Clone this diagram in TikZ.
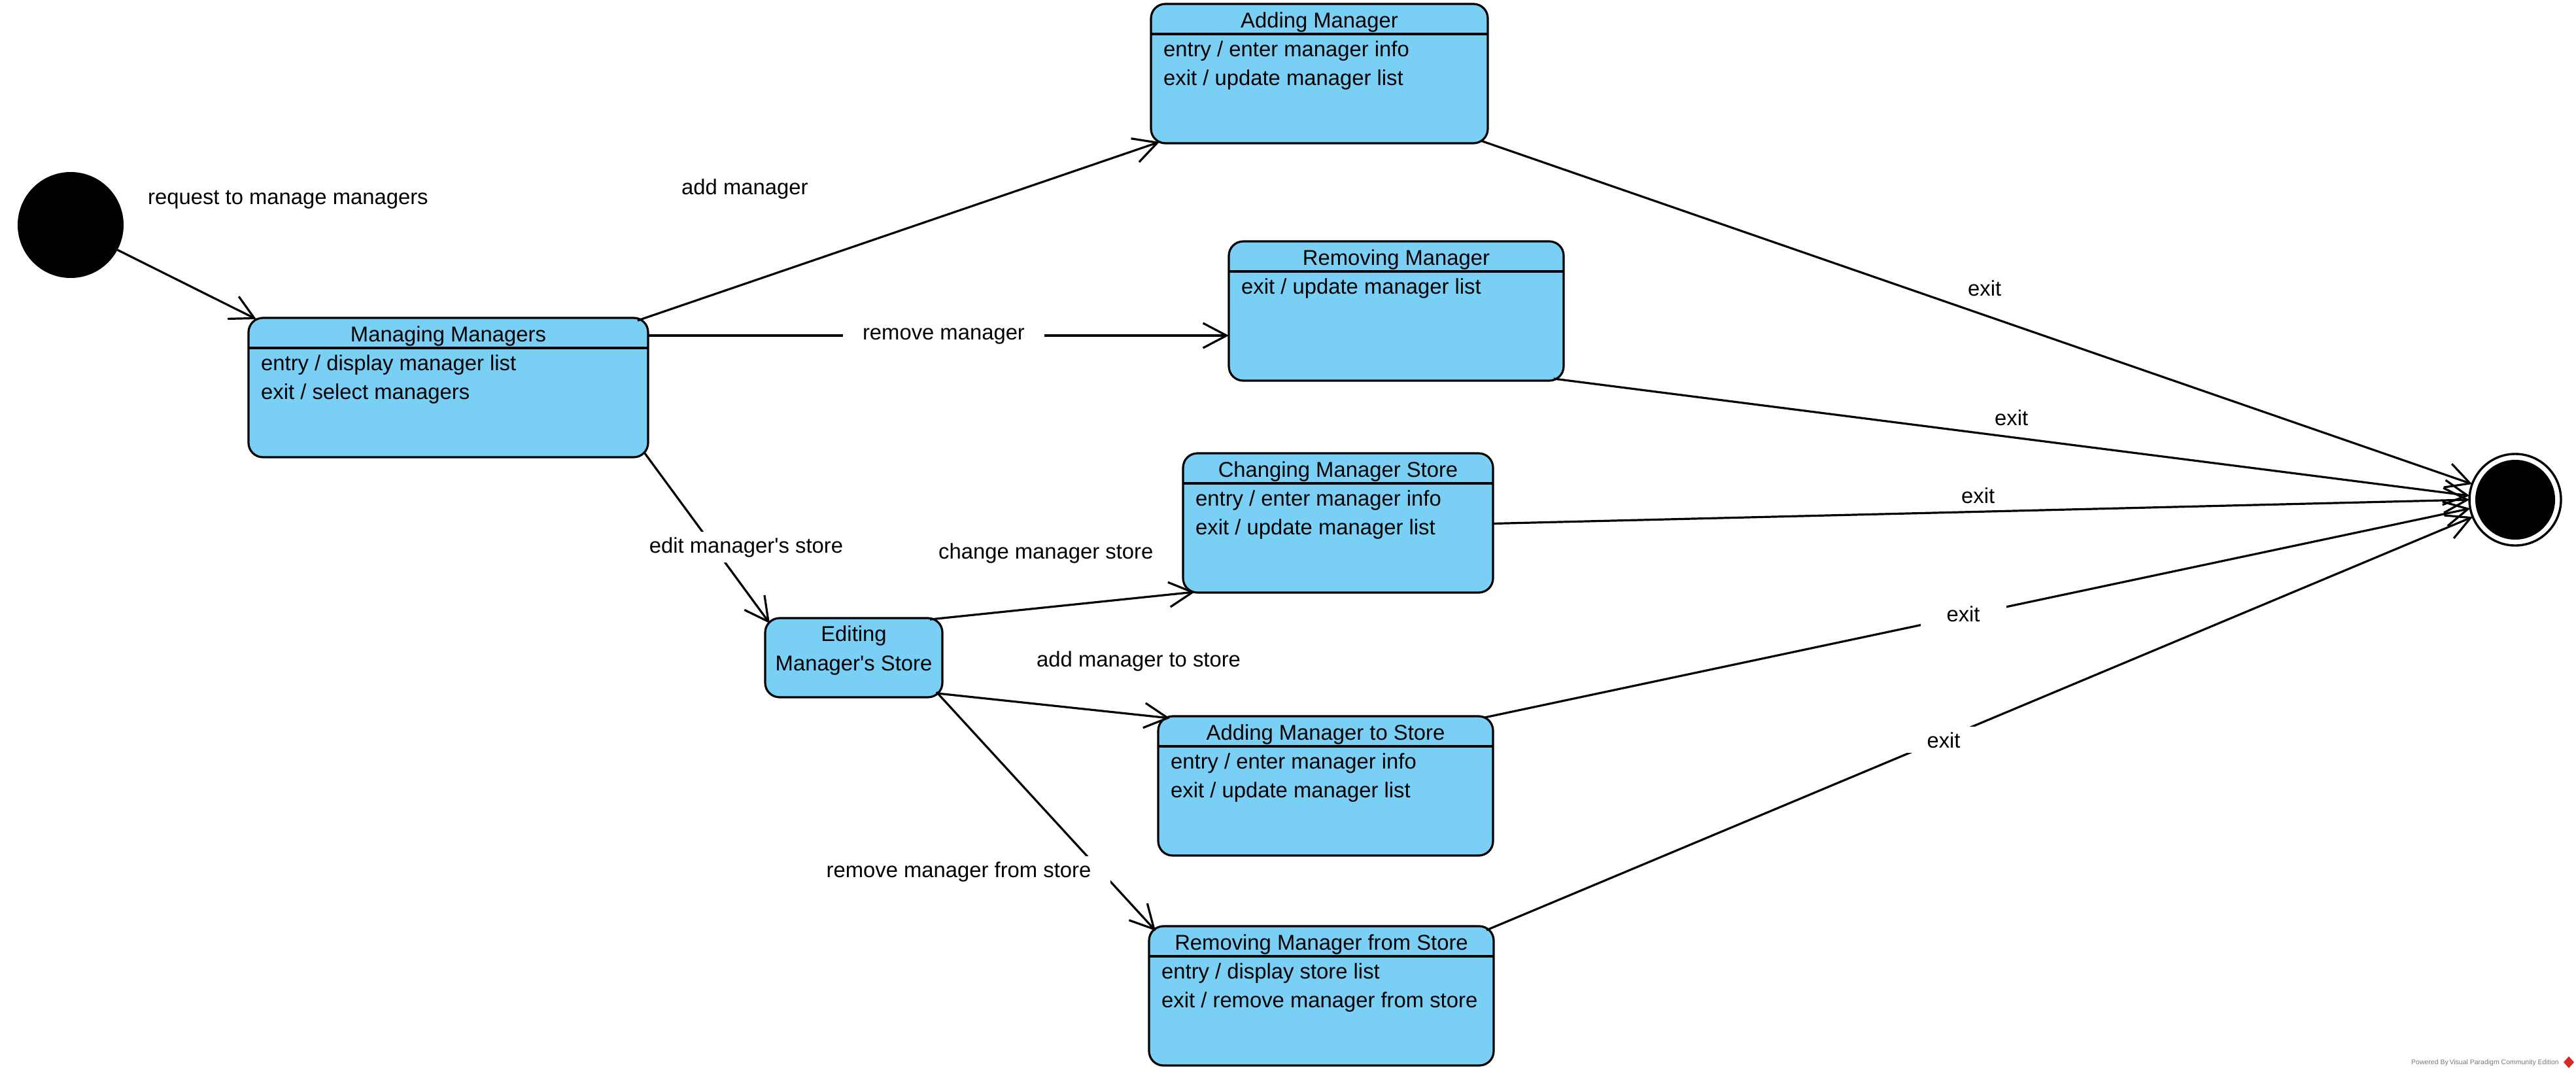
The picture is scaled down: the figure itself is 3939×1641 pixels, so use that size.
\documentclass[tikz,border=0pt]{standalone}
\usepackage{fontspec}
\setmainfont{Liberation Sans}
\usetikzlibrary{arrows.meta,calc}
\definecolor{statefill}{RGB}{122,207,245}
\definecolor{wmgray}{RGB}{120,120,120}
\definecolor{wmred}{RGB}{215,40,40}

\tikzset{
  statebox/.style={draw=black, line width=3.2pt, fill=statefill, rounded corners=22pt,
    inner sep=0pt, outer sep=0pt, anchor=north west, minimum height=213pt},
  txt/.style={inner sep=0pt, font=\fontsize{32.8pt}{44pt}\selectfont},
  trans/.style={line width=3.2pt, -{Straight Barb[length=36pt,width=38pt]}},
  gaplabel/.style={txt, fill=white, inner xsep=30pt, inner ysep=8pt, anchor=base},
  plainlabel/.style={txt, anchor=base west}
}

% state compartments: title, separator, activity lines
\newcommand\StTitle[3]{\node[txt,anchor=base] (#2) at ($(#1.north)+(0,36)$) {#3};}
\newcommand\StSep[1]{\draw[line width=3.2pt] ($(#1.north west)+(0,46)$) -- ($(#1.north east)+(0,46)$);}
\newcommand\StLine[4]{\node[txt,anchor=base west] (#2) at ($(#1.north west)+(19,#3)$) {#4};}

\begin{document}
\begin{tikzpicture}[x=1pt,y=-1pt]
\useasboundingbox (0,0) rectangle (3939,1641);

% initial and final pseudo-states
\node[circle, fill=black, minimum size=162pt, inner sep=0pt] (init) at (108,344) {};
\node[circle, draw=black, line width=3.4pt, minimum size=140pt, inner sep=0pt, outer sep=0pt] (fin) at (3846,764) {};
\fill[black] (fin.center) circle (61pt);

% states
\node[statebox, minimum width=611pt] (mm)  at (380,486)  {};
\node[statebox, minimum width=515pt] (am)  at (1760,6)   {};
\node[statebox, minimum width=512pt] (rm)  at (1879,369) {};
\node[statebox, minimum width=474pt] (cms) at (1809,693) {};
\node[statebox, minimum width=271pt, minimum height=121pt] (ems) at (1170,945) {};
\node[statebox, minimum width=512pt] (ams) at (1771,1095) {};
\node[statebox, minimum width=527pt] (rms) at (1757,1416) {};

\StTitle{mm}{mm-t}{Managing Managers}
\StSep{mm}
\StLine{mm}{mm-a}{80}{entry / display manager list}
\StLine{mm}{mm-b}{124}{exit / select managers}

\StTitle{am}{am-t}{Adding Manager}
\StSep{am}
\StLine{am}{am-a}{80}{entry / enter manager info}
\StLine{am}{am-b}{124}{exit / update manager list}

\StTitle{rm}{rm-t}{Removing Manager}
\StSep{rm}
\StLine{rm}{rm-a}{80}{exit / update manager list}

\StTitle{cms}{cms-t}{Changing Manager Store}
\StSep{cms}
\StLine{cms}{cms-a}{80}{entry / enter manager info}
\StLine{cms}{cms-b}{124}{exit / update manager list}

\node[txt,anchor=base] (ems-t) at ($(ems.north)+(0,35)$) {Editing};
\node[txt,anchor=base] (ems-u) at ($(ems.north)+(0,80)$) {Manager\textquotesingle s Store};

\StTitle{ams}{ams-t}{Adding Manager to Store}
\StSep{ams}
\StLine{ams}{ams-a}{80}{entry / enter manager info}
\StLine{ams}{ams-b}{124}{exit / update manager list}

\StTitle{rms}{rms-t}{Removing Manager from Store}
\StSep{rms}
\StLine{rms}{rms-a}{80}{entry / display store list}
\StLine{rms}{rms-b}{124}{exit / remove manager from store}

% transitions
\draw[trans] (init.-28) -- ($(mm.north west)+(12,2)$);
\draw[trans] ($(mm.north east)+(-16,4)$) -- ($(am.south west)+(13,-2)$);
\draw[trans] ($(mm.north east)+(0,27)$) -- ($(rm.north west)+(0,144)$);
\draw[trans] ($(mm.south east)+(-5,-6)$) -- ($(ems.north west)+(7,8)$);
\draw[trans] ($(ems.north east)+(-19,2)$) -- ($(cms.south west)+(18,-1)$);
\draw[trans] ($(ems.south east)+(-8,-6)$) -- ($(ams.north west)+(18,3)$);
\draw[trans] ($(ems.south east)+(-9,-8)$) -- ($(rms.north west)+(10,7)$);
\draw[trans] ($(am.south east)+(-11,-4)$) -- (fin.160);
\draw[trans] ($(rm.south east)+(-15,-3)$) -- (fin.175);
\draw[trans] ($(cms.east)+(0,1)$) -- (fin.180);
\draw[trans] ($(ams.north east)+(-13,2)$) -- (fin.191);
\draw[trans] ($(rms.north east)+(-11,6)$) -- (fin.202);

% transition labels
\node[plainlabel] (l-req)  at (226,312)  {request to manage managers};
\node[plainlabel] (l-add)  at (1042,297) {add manager};
\node[gaplabel]   (l-rem)  at (1443,519) {remove manager};
\node[gaplabel]   (l-edit) at (1141,845) {edit manager\textquotesingle s store};
\node[plainlabel] (l-chg)  at (1435,854) {change manager store};
\node[plainlabel] (l-ats)  at (1585,1019) {add manager to store};
\node[gaplabel]   (l-rfs)  at (1466,1341) {remove manager from store};
\node[plainlabel] (l-x1)   at (3009,452) {exit};
\node[plainlabel] (l-x2)   at (3050,650) {exit};
\node[plainlabel] (l-x3)   at (2999,769) {exit};
\node[gaplabel, inner xsep=40pt] (l-x4) at (3002,950) {exit};
\node[gaplabel, inner xsep=40pt] (l-x5) at (2972,1143) {exit};

% footer mark
\node[inner sep=0pt, anchor=base east, text=wmgray, font=\fontsize{10.5pt}{12pt}\selectfont] (wm) at (3913,1627) {Powered By\,Visual Paradigm Community Edition};
\fill[wmred] (3928,1615) -- (3936,1624) -- (3928,1633) -- (3920,1624) -- cycle;
\end{tikzpicture}
\end{document}
